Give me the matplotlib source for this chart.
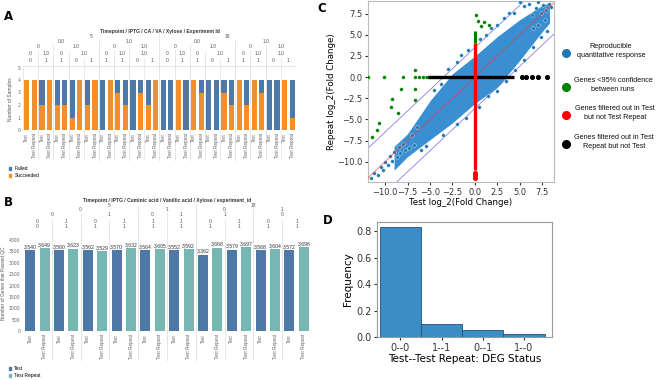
import matplotlib.pyplot as plt
from matplotlib.transforms import blended_transform_factory
from matplotlib.patches import Patch
import numpy as np

W, H = 658, 380

# ---------------- panel A: sample outcome per run ----------------
a_labels = ['Test', 'Test Repeat'] * 18
a_total = [4] * 36
a_succeeded = [4, 4, 2, 4, 2, 2, 1, 4, 2, 4, 0, 4, 3, 2, 0, 3, 2, 4,
               0, 0, 4, 0, 4, 3, 0, 0, 3, 2, 4, 2, 4, 3, 0, 0, 4, 1]
a_timepoint = [(0, 8, '5'), (9, 17, '18')]
a_iptg = [(0, 4, '0.0'), (5, 8, '1.0'), (9, 13, '0.0'), (14, 17, '1.0')]
a_ca = [(0, 1, '0'), (2, 4, '1.0'), (5, 6, '0'), (7, 8, '1.0'),
        (9, 10, '0'), (11, 13, '1.0'), (14, 15, '0'), (16, 17, '1.0')]
a_va = [(0, 0, '0'), (1, 1, '1.0'), (2, 2, '0'), (3, 4, '1.0'), (5, 5, '0'),
        (6, 6, '1.0'), (7, 8, '1.0'), (9, 9, '0'), (10, 10, '1.0'), (11, 11, '0'),
        (12, 13, '1.0'), (14, 14, '0'), (15, 15, '1.0'), (16, 17, '1.0')]
a_xylose = [0, 1, 1, 0, 1, 1, 1, 0, 1, 0, 1, 1, 0, 1, 1, 1, 0, 1]

# ---------------- panel B: genes passing QC ----------------
b_labels = ['Test', 'Test Repeat'] * 10
b_passed = [3540, 3649, 3560, 3623, 3562, 3529, 3570, 3632, 3564, 3605,
            3552, 3592, 3362, 3668, 3579, 3697, 3568, 3604, 3572, 3696]
b_timepoint = [(0, 5, '5'), (6, 9, '18')]
b_iptg = [(0, 3, '0'), (4, 5, '1'), (6, 7, '0'), (8, 9, '1')]
b_cuminic = [(0, 1, '0'), (2, 3, '1'), (4, 4, '0'), (5, 5, '1'), (6, 7, '1'), (8, 9, '0')]
b_vanillic = [0, 1, 0, 1, 1, 1, 0, 1, 0, 1]
b_xylose = [0, 1, 1, 1, 1, 1, 1, 1, 1, 1]

# ---------------- panel C: fold change test vs repeat ----------------
core_x = [-9.0, -7.5, -5.0, -2.5, 0.0, 2.5, 5.0, 7.5, 8.3]
core_lo = [-11.0, -9.4, -7.4, -5.4, -3.1, -1.2, 2.0, 5.4, 6.4]
core_hi = [-8.2, -6.7, -2.8, 0.4, 2.5, 4.8, 6.8, 8.5, 8.8]
blue_x = [-11.6, -11.2, -10.8, -10.5, -10.2, -10.0, -9.7, -9.5, -9.2, -9.0, -8.7, -8.5,
          -8.3, -8.0, -7.8, -7.3, -7.0, -6.8, -6.5, -6.0, -5.5, -4.5, -3.8, -3.0, -2.0,
          -1.5, -0.8, 0.6, 1.2, 1.8, 2.5, 3.2, 3.8, -3.5, -2.0, -1.0, 0.5, 1.5, 2.5,
          3.5, 4.5, 5.5, 6.5, 7.4, 8.0, 5.5, 6.0, 6.3, 6.8, 7.0, 7.3, 7.6, 7.9, 8.2,
          8.5, 4.3, 5.0, 6.5, 7.0, 7.8]
blue_y = [-11.9, -11.3, -11.6, -10.6, -11.0, -10.0, -10.4, -9.3, -9.9, -8.8, -9.4, -8.3,
          -9.0, -7.9, -8.6, -8.4, -6.9, -8.0, -5.9, -8.6, -8.2, -1.5, -0.8, 1.0, 1.8,
          2.6, 3.2, 4.5, 5.0, 5.8, 6.2, 7.0, 7.6, -6.8, -5.6, -4.8, -3.5, -2.2, -1.6,
          -0.5, 0.8, 2.0, 3.6, 4.8, 5.5, 8.4, 8.7, 7.4, 8.2, 8.9, 7.6, 8.5, 7.9, 8.6,
          8.3, 7.6, 8.9, 5.8, 6.2, 6.8]
green_x = [-11.9, -10.1, -8.0, -6.7, -6.2, -5.8, -6.7, -6.7, -8.2, -9.3, -9.2, -10.9,
           -10.7, -11.5, -8.6, -6.7, 0.3, 0.7, 1.0, 1.6, 0.1]
green_y = [0.0, 0.0, 0.0, 0.0, 0.0, 0.0, 0.8, -1.4, -1.4, -3.5, -2.6, -6.3,
           -5.4, -7.1, -4.3, -2.7, 6.6, 6.1, 6.5, 6.2, 7.4]
green_run_h = (-5.6, -3.9)
green_run_v = (4.0, 5.4)
black_run = (-5.2, 4.4)
black_x = [5.2, 5.7, 6.3, 7.0, 8.0]
red_run = (-11.0, 4.0)
red_y = [-11.3, -11.6, -11.9]
band_offset = [3.5, -3.7]

# ---------------- panel D: DEG status ----------------
d_status = ['0--0', '1--1', '0--1', '1--0']
d_freq = [0.83, 0.095, 0.05, 0.025]

C_FAIL = '#4e79a7'
C_SUCC = '#f28e2b'
C_REP = '#76b7b2'
TAB_FONT = ['Liberation Sans', 'DejaVu Sans']

fig = plt.figure(figsize=(6.58, 3.80), dpi=100)


def px_box(l, t, r, b):
    return [l / W, 1 - b / H, (r - l) / W, (b - t) / H]


def fy(py):
    return 1 - py / H


def header(ax, rows, row_py, n, title, title_py, line_bottom):
    tr = blended_transform_factory(ax.transData, fig.transFigure)
    x_lo, x_hi = ax.get_xlim()
    ax.text((x_lo + x_hi) / 2, fy(title_py), title, transform=tr, ha='center', va='center',
            fontsize=3.6, fontweight='bold', color='#333333', family=TAB_FONT)
    for spans, py in zip(rows, row_py):
        for s, e, lab in spans:
            x0 = s * n - 0.5
            x1 = (e + 1) * n - 0.5
            ax.text((x0 + x1) / 2, fy(py), lab, transform=tr, ha='center', va='center',
                    fontsize=3.5, color='#555555', family=TAB_FONT)
            if s > 0:
                ax.plot([x0, x0], [fy(py - 3), fy(line_bottom)], transform=tr,
                        color='#e4e4e4', lw=0.5, clip_on=False, zorder=0)


def per_group(vals):
    return [(g, g, str(v)) for g, v in enumerate(vals)]


# ---- A ----
axA = fig.add_axes(px_box(23, 67.5, 296, 130))
xa = np.arange(len(a_labels))
succ = np.array(a_succeeded)
fail = np.array(a_total) - succ
axA.bar(xa, succ, width=0.68, color=C_SUCC, zorder=2)
axA.bar(xa, fail, bottom=succ, width=0.68, color=C_FAIL, zorder=2)
axA.set_xlim(-0.5, 35.5)
axA.set_ylim(0, 5)
axA.set_yticks(range(6))
axA.set_xticks(xa)
axA.set_xticklabels(a_labels, rotation=90, va='top', family=TAB_FONT)
axA.tick_params(labelsize=3.3, colors='#666666', length=0, pad=2)
axA.set_ylabel('Number of Samples', fontsize=3.5, color='#555555', labelpad=3, family=TAB_FONT)
for side in ['top', 'right', 'bottom']:
    axA.spines[side].set_visible(False)
axA.spines['left'].set_color('#dddddd')
axA.spines['left'].set_linewidth(0.5)
header(axA, [a_timepoint, a_iptg, a_ca, a_va, per_group(a_xylose)],
       [36.7, 41.7, 46.7, 53.3, 61], 2,
       'Timepoint / IPTG / CA / VA / Xylose / Experiment Id', 31.2, 160)
fig.add_artist(plt.Line2D([23 / W, 296 / W], [fy(66), fy(66)], color='#dddddd', lw=0.5))
fig.legend(handles=[Patch(color=C_FAIL), Patch(color=C_SUCC)], labels=['Failed', 'Succeeded'],
           loc='upper left', bbox_to_anchor=(8 / W, fy(165)), frameon=False,
           handlelength=0.5, handleheight=0.6, handletextpad=0.6, labelspacing=0.45,
           borderaxespad=0, borderpad=0.2, prop={'family': TAB_FONT, 'size': 3.5})

# ---- B ----
axB = fig.add_axes(px_box(23, 235, 311, 331))
xb = np.arange(len(b_labels))
b_cols = [C_FAIL if lab == 'Test' else C_REP for lab in b_labels]
axB.bar(xb, b_passed, width=0.7, color=b_cols, zorder=2)
for xi, v in zip(xb, b_passed):
    axB.text(xi, v + 40, f'{v:,}', ha='center', va='bottom', fontsize=3.7,
             color='#333333', family=TAB_FONT)
axB.set_xlim(-0.5, 19.5)
axB.set_ylim(0, 4220)
axB.set_yticks(range(0, 4001, 500))
axB.set_xticks(xb)
axB.set_xticklabels(b_labels, rotation=90, va='top', family=TAB_FONT)
axB.tick_params(labelsize=3.3, colors='#666666', length=0, pad=2)
axB.set_ylabel('Number of Genes that Passed QC', fontsize=3.4, color='#555555', labelpad=2,
               family=TAB_FONT)
for side in ['top', 'right', 'bottom', 'left']:
    axB.spines[side].set_visible(False)
header(axB, [b_timepoint, b_iptg, b_cuminic, per_group(b_vanillic), per_group(b_xylose)],
       [205.6, 209.2, 214.5, 221.7, 226.7], 2,
       'Timepoint / IPTG / Cuminic acid / Vanillic acid / Xylose / experiment_id', 200.8, 360)
fig.legend(handles=[Patch(color=C_FAIL), Patch(color=C_REP)], labels=['Test', 'Test Repeat'],
           loc='upper left', bbox_to_anchor=(8 / W, fy(365)), frameon=False,
           handlelength=0.5, handleheight=0.6, handletextpad=0.6, labelspacing=0.45,
           borderaxespad=0, borderpad=0.2, prop={'family': TAB_FONT, 'size': 3.5})

# ---- C ----
axC = fig.add_axes(px_box(368, 1, 554, 182))
xl = np.array([-13, 10])
axC.plot(xl, xl + band_offset[0], color='#8a7fe0', lw=0.6, zorder=1)
axC.plot(xl, xl + band_offset[1], color='#8a7fe0', lw=0.6, zorder=1)
axC.fill_between(core_x, core_lo, core_hi, color='#3a8fd2', lw=0, zorder=2)
axC.scatter(blue_x, blue_y, s=7, color='#1f77b4', edgecolor='white', linewidth=0.25, zorder=3)
axC.plot(xl, xl, color='#ff3030', lw=0.5, alpha=0.8, zorder=4)
axC.hlines(0, *green_run_h, color='green', lw=2.2, zorder=4)
axC.vlines(0, *green_run_v, color='green', lw=2.2, zorder=4)
axC.scatter(green_x, green_y, s=7, color='green', edgecolor='white', linewidth=0.2, zorder=4)
axC.hlines(0, *black_run, color='black', lw=2.4, zorder=5)
axC.scatter(black_x, [0] * len(black_x), s=7, color='black', zorder=5)
axC.vlines(0, *red_run, color='red', lw=2.4, zorder=6)
axC.scatter([0] * len(red_y), red_y, s=7, color='red', zorder=6)
axC.set_xlim(-11.9, 8.8)
axC.set_ylim(-12.4, 9.0)
axC.set_xticks([-10, -7.5, -5, -2.5, 0, 2.5, 5, 7.5])
axC.set_yticks([-10, -7.5, -5, -2.5, 0, 2.5, 5, 7.5])
axC.tick_params(labelsize=6, length=2.5, pad=1.5, colors='#333333')
axC.set_xlabel('Test log_2(Fold Change)', fontsize=6.2, labelpad=1)
axC.set_ylabel('Repeat log_2(Fold Change)', fontsize=6.2, labelpad=1)
for sp in axC.spines.values():
    sp.set_color('#bbbbbb')
    sp.set_linewidth(0.8)

# legend for C in pixel space
axL = fig.add_axes(px_box(556, 30, 658, 165))
axL.set_xlim(556, 658)
axL.set_ylim(165, 30)
axL.axis('off')
leg_items = [('#1f77b4', 'Reproducible\nquantitative response', 53, 611),
             ('green', 'Genes <95% confidence\nbetween runs', 87, 613),
             ('red', 'Genes filtered out in Test\nbut not Test Repeat', 115, 615),
             ('black', 'Genes filtered out in Test\nRepeat but not Test', 144, 614)]
for col, txt, yy, xt in leg_items:
    axL.plot(566, yy, 'o', color=col, ms=5.5)
    axL.text(xt, yy - 2, txt, ha='center', va='center', fontsize=5.2, linespacing=1.3,
             family=TAB_FONT, color='#111111')

# ---- D ----
axD = fig.add_axes(px_box(377, 222, 552, 337))
axD.bar(range(len(d_status)), d_freq, width=1.0, color='#3a8dc5', edgecolor='#2a4f70',
        linewidth=0.6)
axD.set_xlim(-0.57, 3.68)
axD.set_ylim(0, 0.87)
axD.set_xticks(range(len(d_status)))
axD.set_xticklabels(d_status)
axD.set_yticks([0, 0.2, 0.4, 0.6, 0.8])
axD.tick_params(labelsize=7, length=2.5, pad=1.5, colors='#333333')
axD.set_xlabel('Test--Test Repeat: DEG Status', fontsize=7.5, labelpad=1)
axD.set_ylabel('Frequency', fontsize=7.5, labelpad=2)
for sp in axD.spines.values():
    sp.set_color('#999999')
    sp.set_linewidth(0.8)

# panel letters
for lab, px, py in [('A', 8, 17), ('B', 8, 203), ('C', 322, 8), ('D', 328, 220)]:
    fig.text(px / W, fy(py), lab, fontsize=8.5, fontweight='bold', ha='center', va='center')

fig.savefig('out.png', dpi=100)
